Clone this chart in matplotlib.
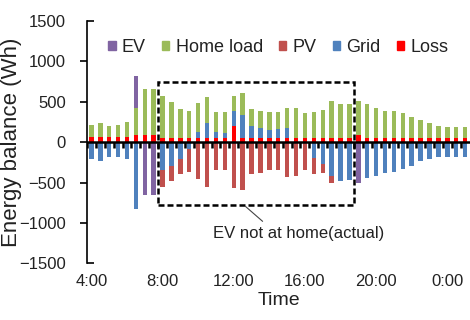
import numpy as np
import matplotlib.pyplot as plt
from matplotlib.patches import Rectangle, Patch
from matplotlib.lines import TICKDOWN, TICKRIGHT

plt.rcParams['font.family'] = ['Liberation Sans', 'DejaVu Sans']

# half-hourly slots from 4:00 to 1:00 next day
times = [f"{(4 + k // 2) % 24}:{'30' if k % 2 else '00'}" for k in range(43)]

# sinks (positive side), Wh
loss = [60, 60, 60, 60, 60, 90, 90, 90, 50, 50, 50, 50, 50, 50, 50, 50,
        200, 50, 50, 50, 50, 50, 50, 50, 50, 50, 50, 50, 50, 50, 90, 50,
        50, 50, 50, 50, 50, 50, 50, 50, 50, 50, 50]
grid_out = [0, 0, 0, 0, 0, 0, 0, 0, 0, 0, 0, 0, 80, 180, 80, 60,
            190, 290, 150, 130, 100, 110, 130, 0, 0, 0, 0, 0, 0, 0, 0, 0,
            0, 0, 0, 0, 0, 0, 0, 0, 0, 0, 0]
home = [155, 180, 145, 155, 185, 330, 565, 565, 525, 440, 360, 340, 350, 325, 240, 260,
        175, 270, 210, 210, 220, 210, 240, 370, 310, 320, 345, 460, 420, 420, 420, 420,
        375, 340, 340, 305, 265, 225, 185, 155, 140, 140, 140]
ev_in = [0, 0, 0, 0, 0, 400, 0, 0, 0, 0, 0, 0, 0, 0, 0, 0,
         0, 0, 0, 0, 0, 0, 0, 0, 0, 0, 0, 0, 0, 0, 0, 0,
         0, 0, 0, 0, 0, 0, 0, 0, 0, 0, 0]

# sources (negative side), Wh
grid_in = [-215, -230, -190, -190, -210, -830, 0, 0, -350, -290, -210, -90, 0, 0, 0, 0,
           0, 0, 0, 0, 0, 0, 0, 0, 0, -200, -270, -420, -480, -470, 0, -450,
           -415, -385, -373, -330, -300, -230, -210, -190, -190, -185, -185]
ev_out = [0, 0, 0, 0, 0, 0, -650, -660, 0, 0, 0, 0, 0, 0, 0, 0,
          0, 0, 0, 0, 0, 0, 0, 0, 0, 0, 0, 0, 0, 0, -510, 0,
          0, 0, 0, 0, 0, 0, 0, 0, 0, 0, 0]
pv = [0, 0, 0, 0, 0, 0, 0, 0, -210, -186, -185, -285, -455, -550, -345, -350,
      -566, -590, -400, -377, -350, -350, -426, -414, -350, -190, -110, -80, 0, 0, 0, 0,
      0, 0, 0, 0, 0, 0, 0, 0, 0, 0, 0]

c_ev, c_home, c_pv, c_grid, c_loss = '#8064a2', '#9bbb59', '#c0504d', '#4f81bd', '#ff0000'

x = np.arange(len(times))
w = 0.5

fig = plt.figure(figsize=(4.7, 3.2), dpi=100)
ax = fig.add_axes([0.185, 0.177, 0.815, 0.758])

# positive stack: loss, grid export, home load, EV charging
pos_series = [(loss, c_loss), (grid_out, c_grid), (home, c_home), (ev_in, c_ev)]
bottom = np.zeros(len(x))
for vals, col in pos_series:
    ax.bar(x, vals, w, bottom=bottom, color=col, linewidth=0)
    bottom += np.array(vals)

# negative stack: grid import, EV discharge, PV
neg_series = [(grid_in, c_grid), (ev_out, c_ev), (pv, c_pv)]
bottom = np.zeros(len(x))
for vals, col in neg_series:
    ax.bar(x, vals, w, bottom=bottom, color=col, linewidth=0)
    bottom += np.array(vals)

# zero line with category ticks
ax.axhline(0, color='black', lw=1.8, zorder=3)
ax.plot(x - 0.5, np.zeros(len(x)), ls='none', marker=TICKDOWN, ms=4, mew=1.8,
        color='black', zorder=3)

ax.set_xlim(-0.5, 42.55)
ax.set_ylim(-1500, 1500)
ax.set_yticks(np.arange(-1500, 1501, 500))
ax.set_xticks(x[::8])
ax.set_xticklabels(times[::8])

for s in ['top', 'right', 'bottom']:
    ax.spines[s].set_visible(False)
ax.spines['left'].set_linewidth(1.2)
ax.tick_params(axis='x', length=0, pad=8, labelsize=12, labelcolor='#222222')
ax.tick_params(axis='y', direction='out', length=5, width=1.2, pad=10,
               labelsize=12, labelcolor='#222222')
yt = ax.yaxis.get_major_ticks()
for t in (yt[0], yt[-1]):
    t.tick1line.set_marker(TICKRIGHT)

ax.set_ylabel('Energy balance (Wh)', fontsize=16, color='#222222')
ax.yaxis.set_label_coords(-0.17, 0.5)
ax.set_xlabel('Time', fontsize=14, color='#222222')
ax.xaxis.set_label_coords(0.5, -0.12)

# period when the EV is away
ax.add_patch(Rectangle((7.5, -775), 22, 1515, fill=False, ec='black', lw=1.8,
                       ls=(0, (2.4, 1.2)), zorder=4))
ax.annotate('EV not at home(actual)', xy=(17.1, -775), xytext=(23.3, -1130),
            ha='center', va='center', fontsize=12, color='#222222',
            arrowprops=dict(arrowstyle='-', color='#444444', lw=0.8, relpos=(0.32, 1.0)))

handles = [Patch(color=c_ev, label='EV'), Patch(color=c_home, label='Home load'),
           Patch(color=c_pv, label='PV'), Patch(color=c_grid, label='Grid'),
           Patch(color=c_loss, label='Loss')]
ax.legend(handles=handles, loc='center', bbox_to_anchor=(0.5, 0.89), ncol=5,
          frameon=False, fontsize=13, handlelength=0.4, handleheight=0.4,
          handletextpad=0.35, columnspacing=0.9, labelcolor='#222222')

fig.savefig('out.png', dpi=100)
